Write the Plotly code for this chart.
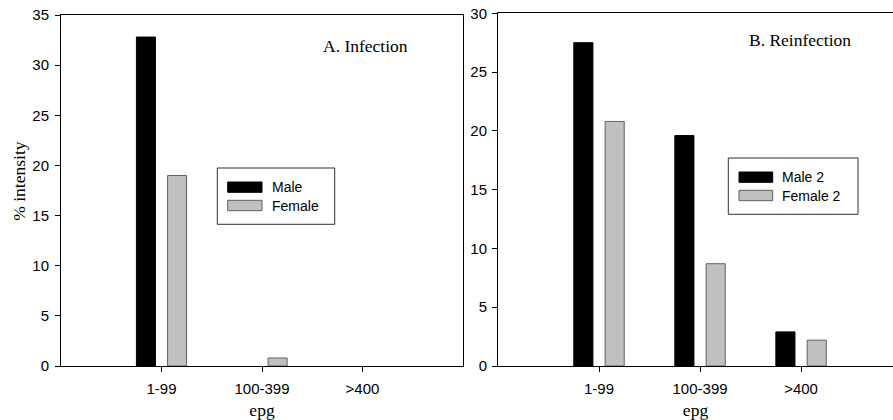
import plotly.graph_objects as go

categories = ["1-99", "100-399", ">400"]
infection_male = [32.8, 0, 0]
infection_female = [19.0, 0.8, 0]
reinfection_male = [27.5, 19.6, 2.9]
reinfection_female = [20.8, 8.7, 2.2]

W, H = 893, 420
BLACK = "#000000"
GRAY = "#c0c0c0"
GRAY_LINE = "#606060"
SANS = "Liberation Sans, Arial, sans-serif"
SERIF = "Liberation Serif, Times New Roman, serif"

x_idx = list(range(len(categories)))


def lw(vals):
    return [1 if v > 0 else 0 for v in vals]


series = [
    ("Male", infection_male, BLACK, BLACK, "x", "y"),
    ("Female", infection_female, GRAY, GRAY_LINE, "x", "y"),
    ("Male 2", reinfection_male, BLACK, BLACK, "x2", "y2"),
    ("Female 2", reinfection_female, GRAY, GRAY_LINE, "x2", "y2"),
]

fig = go.Figure()
for name, vals, fill, line, xa, ya in series:
    fig.add_trace(go.Bar(x=x_idx, y=vals, name=name,
                         marker=dict(color=fill, line=dict(color=line, width=lw(vals))),
                         xaxis=xa, yaxis=ya, showlegend=False))

axis_common = dict(showgrid=False, zeroline=False, showline=True, linecolor=BLACK, linewidth=1,
                   mirror=True, ticks="outside", ticklen=5, tickcolor=BLACK, tickwidth=1,
                   automargin=False,
                   tickfont=dict(family=SANS, size=15, color=BLACK))

title_font = dict(family=SERIF, size=17.5, color=BLACK)


def px(x):
    return x / W


def py(y):
    return (H - y) / H


shapes = []
annotations = []

# Manual legends (box + wide swatches + labels), drawn in paper coordinates
legend_specs = [
    dict(box=(217.3, 168, 334.7, 224.3), sx=(227.7, 262), tx=270,
         entries=[(0, 182, 192.3, 187), (1, 200.3, 210.7, 205.5)]),
    dict(box=(728.3, 158, 858, 214.3), sx=(739, 772.7), tx=780,
         entries=[(2, 172, 182.3, 177), (3, 190.3, 200.7, 195.5)]),
]
for spec in legend_specs:
    x0, y0, x1, y1 = spec["box"]
    shapes.append(dict(type="rect", xref="paper", yref="paper",
                       x0=px(x0), x1=px(x1), y0=py(y1), y1=py(y0),
                       line=dict(color="#303030", width=1), fillcolor="white", layer="above"))
    for idx, sy0, sy1, ty in spec["entries"]:
        name, _, fill, line, _, _ = series[idx]
        shapes.append(dict(type="rect", xref="paper", yref="paper",
                           x0=px(spec["sx"][0]), x1=px(spec["sx"][1]), y0=py(sy1), y1=py(sy0),
                           line=dict(color=line, width=1), fillcolor=fill, layer="above"))
        annotations.append(dict(text=name, xref="paper", yref="paper", x=px(spec["tx"]), y=py(ty),
                                xanchor="left", yanchor="middle", showarrow=False,
                                font=dict(family=SANS, size=14, color=BLACK)))

annotations += [
    dict(text="A. Infection", xref="paper", yref="paper", x=px(321), y=py(46),
         xanchor="left", yanchor="middle", showarrow=False, font=title_font),
    dict(text="B. Reinfection", xref="paper", yref="paper", x=px(747), y=py(40),
         xanchor="left", yanchor="middle", showarrow=False, font=title_font),
    dict(text="% intensity", xref="paper", yref="paper", x=px(19), y=py(181.7),
         xanchor="center", yanchor="middle", textangle=-90, showarrow=False, font=title_font),
]

fig.update_layout(
    width=W, height=H,
    margin=dict(l=0, r=0, t=0, b=0, autoexpand=False),
    paper_bgcolor="white", plot_bgcolor="white",
    barmode="group", bargap=0.38, bargroupgap=0.39,
    xaxis=dict(domain=[px(61), px(463)], anchor="y", range=[-1, 3],
               tickvals=x_idx, ticktext=categories, ticklabelstandoff=4,
               title=dict(text="epg", font=title_font, standoff=9),
               **axis_common),
    yaxis=dict(domain=[54 / H, 405 / H], anchor="x", range=[0, 35], dtick=5,
               ticklabelstandoff=3,
               **axis_common),
    xaxis2=dict(domain=[px(498), 1.0], anchor="y2", range=[-1, 2.91],
                tickvals=x_idx, ticktext=categories, ticklabelstandoff=4,
                title=dict(text="epg", font=title_font, standoff=9),
                **axis_common),
    yaxis2=dict(domain=[54 / H, 406.7 / H], anchor="x2", range=[0, 30], dtick=5,
                ticklabelstandoff=2,
                **axis_common),
    shapes=shapes,
    annotations=annotations,
)

fig.write_html("out.html")
